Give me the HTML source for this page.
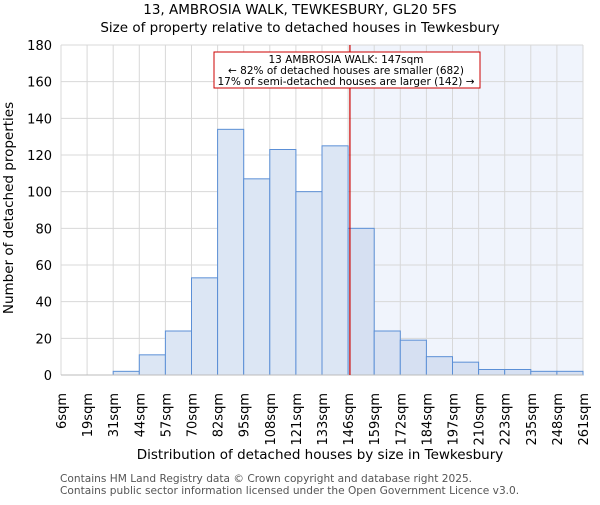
<!DOCTYPE html>
<html><head><meta charset="utf-8"><style>
body{margin:0;background:#fff;}
svg text{font-family:"DejaVu Sans","Liberation Sans",sans-serif;}
</style></head><body>
<svg id="chart" width="600" height="500" xmlns="http://www.w3.org/2000/svg">
<text x="300" y="14" font-size="13.5" text-anchor="middle">13, AMBROSIA WALK, TEWKESBURY, GL20 5FS</text>
<text x="300" y="32" font-size="13.5" text-anchor="middle">Size of property relative to detached houses in Tewkesbury</text>
<g id="plot"></g>
<text x="320" y="459" font-size="13.5" text-anchor="middle">Distribution of detached houses by size in Tewkesbury</text>
<text transform="translate(13,208) rotate(-90)" font-size="13.5" text-anchor="middle">Number of detached properties</text>
<text x="60" y="482" font-size="10.6" fill="#555">Contains HM Land Registry data © Crown copyright and database right 2025.</text>
<text x="60" y="494" font-size="10.6" fill="#555">Contains public sector information licensed under the Open Government Licence v3.0.</text>
</svg>
<script>
const tickLabels=["6sqm","19sqm","31sqm","44sqm","57sqm","70sqm","82sqm","95sqm","108sqm","121sqm","133sqm","146sqm","159sqm","172sqm","184sqm","197sqm","210sqm","223sqm","235sqm","248sqm","261sqm"];
const counts=[0,0,2,11,24,53,134,107,123,100,125,80,24,19,10,7,3,3,2,2];
const yTicks=[0,20,40,60,80,100,120,140,160,180];
const markerBin=11.07;
const X0=61,X1=583,Y0=375,Y1=45,YMAX=180;
const bw=(X1-X0)/counts.length;
const xs=i=>X0+i*bw;
const ys=v=>Y0-(v/YMAX)*(Y0-Y1);
const NS="http://www.w3.org/2000/svg";
const g=document.getElementById('plot');
function mk(t,a){const e=document.createElementNS(NS,t);for(const k in a)e.setAttribute(k,a[k]);g.appendChild(e);return e;}
const mx=xs(markerBin);
let e=mk('rect',{x:mx,y:Y1,width:X1-mx,height:Y0-Y1,fill:'#f0f4fc'});


yTicks.forEach(v=>{
 let l=mk('line',{x1:X0,x2:X1,y1:ys(v),y2:ys(v),stroke:'#d8d8d8'});
 
 
 let t=mk('text',{x:X0-9,y:ys(v)+5,'font-size':13,'text-anchor':'end'});
 t.textContent=v;
 
 
});
tickLabels.forEach((s,i)=>{
 let l=mk('line',{x1:xs(i),x2:xs(i),y1:Y1,y2:Y0,stroke:'#d8d8d8'});
 
 
 let t=mk('text',{transform:`translate(${xs(i)+5},${Y0+18}) rotate(-90)`,'font-size':13,'text-anchor':'end'});
 t.textContent=s;
 
 
});
counts.forEach((v,i)=>{
 let r=mk('rect',{x:xs(i),y:ys(v),width:bw,height:Y0-ys(v),fill:i>=11?'#d6e0f2':'#dce6f4',stroke:'#5b8fd6','stroke-width':1});
 
 
});
let ax=mk('line',{x1:X0,x2:X1,y1:Y0,y2:Y0,stroke:'#bbb'});


let ml=mk('line',{x1:mx,x2:mx,y1:Y1,y2:Y0,stroke:'#cc0000','stroke-width':1.2});


let box=mk('rect',{x:214,y:52,width:266,height:36,fill:'#fff',stroke:'#cc0000'});


["13 AMBROSIA WALK: 147sqm","← 82% of detached houses are smaller (682)","17% of semi-detached houses are larger (142) →"].forEach((s,i)=>{
 let t=mk('text',{x:346,y:63+i*11,'font-size':10.5,'text-anchor':'middle'});
 t.textContent=s;
 
 
});
</script>
</body></html>
